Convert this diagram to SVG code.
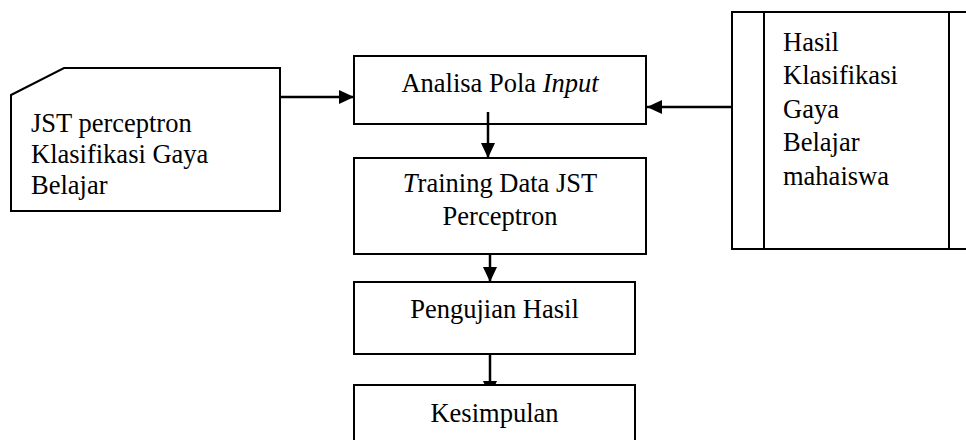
<svg xmlns="http://www.w3.org/2000/svg" width="966" height="440" viewBox="0 0 966 440">
<style>
.box{fill:#fff;stroke:#000;stroke-width:2}
.t{font-family:"Liberation Serif","Times New Roman",serif;font-size:26.5px;fill:#000}
.c{text-anchor:middle}
.conn{stroke:#000;stroke-width:2.5;fill:none}
</style>
<defs>
<marker id="ah" viewBox="0 0 15 14" refX="15" refY="7" markerWidth="15" markerHeight="14" markerUnits="userSpaceOnUse" orient="auto">
<path d="M0,0 L15,7 L0,14 Z" fill="#000"/>
</marker>
</defs>
<rect width="966" height="440" fill="#fff"/>
<g id="card">
<polygon class="box" points="11,95 64,68 280,68 280,211 11,211"/>
<text class="t" x="31" y="132">JST perceptron</text>
<text class="t" x="31" y="163">Klasifikasi Gaya</text>
<text class="t" x="31" y="194">Belajar</text>
</g>
<g id="analisa">
<rect class="box" x="354" y="56" width="292" height="68"/>
<text class="t c" x="500" y="92">Analisa Pola <tspan font-style="italic">Input</tspan></text>
</g>
<g id="training">
<rect class="box" x="354" y="158" width="292" height="96"/>
<text class="t c" x="500" y="192"><tspan font-style="italic">T</tspan>raining Data JST</text>
<text class="t c" x="500" y="224.5">Perceptron</text>
</g>
<g id="pengujian">
<rect class="box" x="354" y="282" width="281" height="72"/>
<text class="t c" x="494.5" y="318">Pengujian Hasil</text>
</g>
<g id="hasil">
<rect class="box" x="732" y="12" width="250" height="237"/>
<line x1="764" y1="12" x2="764" y2="249" stroke="#000" stroke-width="2"/>
<line x1="949" y1="12" x2="949" y2="249" stroke="#000" stroke-width="2"/>
<text class="t" x="783" y="51">Hasil</text>
<text class="t" x="783" y="84">Klasifikasi</text>
<text class="t" x="783" y="117.5">Gaya</text>
<text class="t" x="783" y="151">Belajar</text>
<text class="t" x="783" y="184.5">mahaiswa</text>
</g>
<g id="connectors">
<line class="conn" x1="280" y1="97" x2="354" y2="97" marker-end="url(#ah)"/>
<line class="conn" x1="732" y1="107" x2="647" y2="107" marker-end="url(#ah)"/>
<line class="conn" x1="488" y1="112" x2="488" y2="158" marker-end="url(#ah)"/>
<line class="conn" x1="490" y1="254" x2="490" y2="282" marker-end="url(#ah)"/>
<line class="conn" x1="490" y1="354" x2="490" y2="396" marker-end="url(#ah)"/>
</g>
<g id="kesimpulan">
<rect class="box" x="354" y="385" width="281" height="70"/>
<text class="t c" x="494.5" y="422">Kesimpulan</text>
</g>
</svg>
